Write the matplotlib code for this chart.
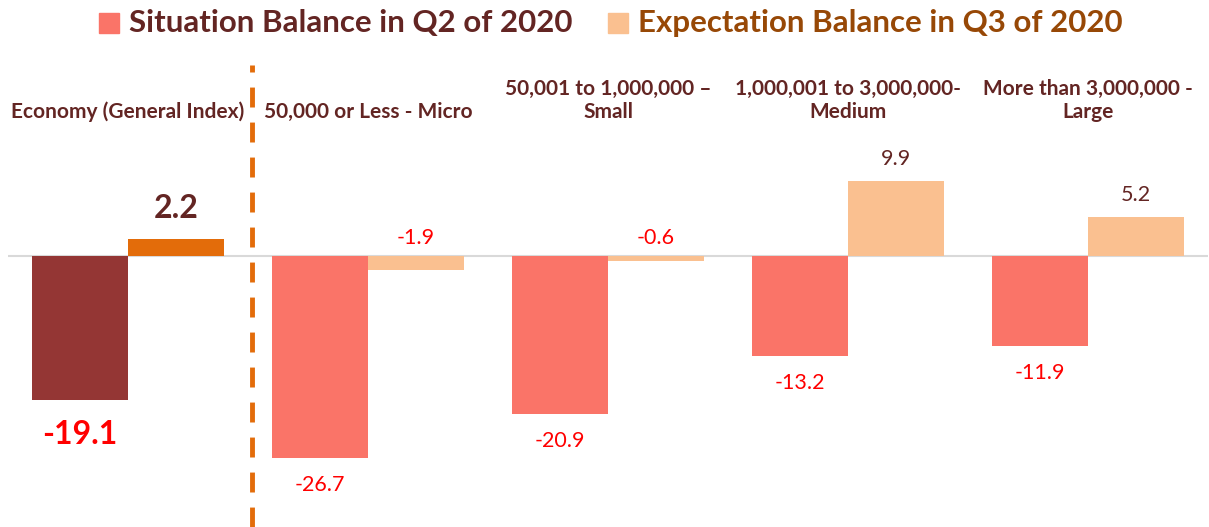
import numpy as np
import matplotlib.pyplot as plt

categories = ['Economy (General Index)', '50,000 or Less - Micro',
              '50,001 to 1,000,000 –\nSmall', '1,000,001 to 3,000,000-\nMedium',
              'More than 3,000,000 -\nLarge']
situation = [-19.1, -26.7, -20.9, -13.2, -11.9]
expectation = [2.2, -1.9, -0.6, 9.9, 5.2]
series_names = ['Situation Balance in Q2 of 2020', 'Expectation Balance in Q3 of 2020']

plt.rcParams['font.family'] = ['Lato', 'DejaVu Sans']
brown = '#632523'
red = '#FF0000'

fig = plt.figure(figsize=(12.09, 5.27), dpi=100)
ax = fig.add_axes([8/1209, 0, 1200/1209, 462/527])

x = np.arange(len(categories))
w = 0.4
sit_colors = ['#943634'] + ['#FA7468'] * 4
exp_colors = ['#E36C0A'] + ['#FAC090'] * 4
ax.bar(x - w/2, situation, w, color=sit_colors)
ax.bar(x + w/2, expectation, w, color=exp_colors)
ax.axhline(0, color='#D9D9D9', lw=1.5, zorder=0)
ax.axvline(0.515, color='#E36C0A', lw=3.5, ls=(0, (4.1, 3.1)))

ax.set_xlim(-0.5, 4.5)
ax.set_ylim(-35.9, 25.3)
ax.axis('off')

# value labels
for i in range(len(categories)):
    big = i == 0
    fs = 23 if big else 15.5
    fw = 'bold' if big else 'normal'
    v = situation[i]
    ax.annotate(f'{v:.1f}', (x[i] - w/2, v), xytext=(0, -25 if big else -19.5),
                textcoords='offset points', ha='center', va='center',
                color=red, fontsize=fs, fontweight=fw)
    v = expectation[i]
    if v >= 0:
        ax.annotate(f'{v:.1f}', (x[i] + w/2, v), xytext=(0, 22 if big else 16),
                    textcoords='offset points', ha='center', va='center',
                    color=brown, fontsize=fs, fontweight=fw)
    else:
        ax.annotate(f'{v:.1f}', (x[i] + w/2, 0), xytext=(0, 13),
                    textcoords='offset points', ha='center', va='center',
                    color=red, fontsize=fs, fontweight=fw)

# category labels
for i, c in enumerate(categories):
    ax.text(x[i], 18.3, c, ha='center', va='baseline', color=brown,
            fontsize=15, fontweight='bold', linespacing=1.2)

# legend
fig.patches.append(plt.Rectangle((99/1209, 1 - 33/527), 20/1209, 20/527,
                                 transform=fig.transFigure, color='#FA7468'))
fig.text(129/1209, 1 - 23/527, series_names[0], ha='left', va='center',
         color=brown, fontsize=22.5, fontweight='bold')
fig.patches.append(plt.Rectangle((608/1209, 1 - 33/527), 20/1209, 20/527,
                                 transform=fig.transFigure, color='#FAC090'))
fig.text(638/1209, 1 - 23/527, series_names[1], ha='left', va='center',
         color='#974806', fontsize=22.5, fontweight='bold')

fig.savefig('out.png', dpi=100)
